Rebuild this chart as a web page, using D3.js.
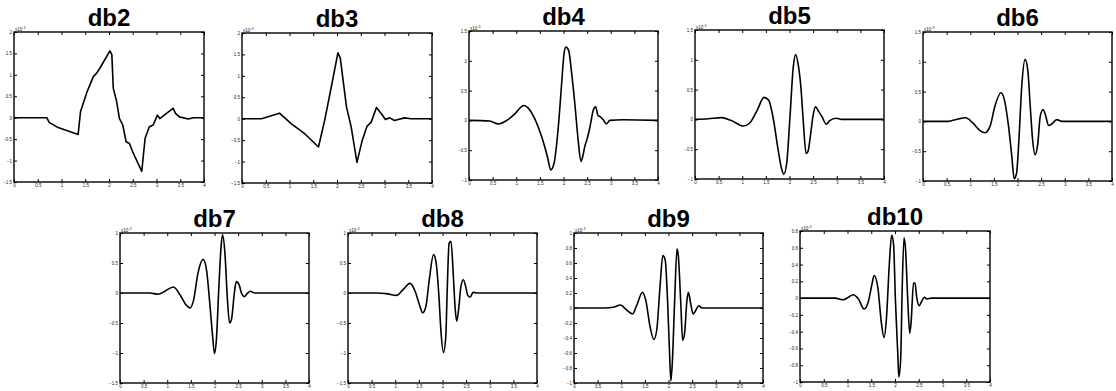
<!DOCTYPE html>
<html>
<head>
<meta charset="utf-8">
<script src="https://cdn.jsdelivr.net/npm/d3@7"></script>
<style>
  body { margin: 0; background: #fff; }
  svg { display: block; }
</style>
</head>
<body>
<div class="chart"></div>
<script>
// wavelet names and y axes (in units of the x10 multiplier)
const names = ["db2", "db3", "db4", "db5", "db6", "db7", "db8", "db9", "db10"];
const yDomains = [[-1.5, 2], [-1.5, 2], [-1, 1.5], [-1, 1.5], [-1, 1.5], [-1.5, 1], [-1.5, 1], [-1, 1], [-1, 0.8]];
const yStep = [0.5, 0.5, 0.5, 0.5, 0.5, 0.5, 0.5, 0.2, 0.2];
const xTicks = [0, 0.5, 1, 1.5, 2, 2.5, 3, 3.5, 4];

const db2 = [[0,0],[0.69,0],[0.74,-0.11],[0.93,-0.23],[1.35,-0.39],[1.40,0.14],[1.54,0.61],[1.67,0.96],[1.74,1.04],[1.81,1.16],[2.02,1.56],[2.06,1.47],[2.09,0.69],[2.16,0.38],[2.22,-0.02],[2.29,-0.17],[2.36,-0.56],[2.43,-0.60],[2.50,-0.80],[2.69,-1.25],[2.76,-0.48],[2.85,-0.21],[2.93,-0.17],[3.02,0.06],[3.07,-0.02],[3.21,0.10],[3.35,0.22],[3.40,0.10],[3.48,0.02],[3.67,-0.03],[3.78,0],[4,0]];
const db3 = [[0,0],[0.41,0],[0.79,0.13],[1.04,-0.12],[1.32,-0.35],[1.61,-0.66],[1.74,-0.04],[1.88,0.74],[2.02,1.54],[2.07,1.41],[2.20,0.27],[2.30,-0.20],[2.42,-1.02],[2.53,-0.51],[2.63,-0.18],[2.72,-0.08],[2.83,0.26],[2.93,0.12],[3.02,-0.02],[3.11,0.02],[3.21,-0.04],[3.42,0.02],[3.56,0],[4,0]];
const db4 = [[0,0],[0.44,-0.01],[0.62,-0.06],[0.80,0],[0.97,0.11],[1.16,0.25],[1.25,0.21],[1.39,0.03],[1.54,-0.28],[1.66,-0.61],[1.73,-0.83],[1.80,-0.72],[1.89,-0.11],[1.96,0.61],[2.01,1.11],[2.05,1.23],[2.11,1.17],[2.17,0.81],[2.24,0.28],[2.31,-0.33],[2.37,-0.69],[2.42,-0.56],[2.45,-0.44],[2.50,-0.31],[2.56,-0.11],[2.63,0.17],[2.68,0.23],[2.73,0.08],[2.78,0.06],[2.84,0.01],[2.91,-0.06],[2.98,0],[3.26,0.01],[4,0]];
const db5 = [[0,0],[0.28,0.01],[0.56,0.03],[0.77,-0.02],[1.02,-0.11],[1.16,-0.06],[1.32,0.16],[1.46,0.37],[1.56,0.32],[1.65,0.04],[1.76,-0.51],[1.83,-0.82],[1.88,-0.92],[1.94,-0.74],[2.01,0.04],[2.08,0.88],[2.13,1.09],[2.18,0.94],[2.24,0.55],[2.29,-0.01],[2.35,-0.57],[2.39,-0.54],[2.45,-0.23],[2.50,0.07],[2.55,0.21],[2.62,0.13],[2.69,0.04],[2.78,-0.08],[2.85,-0.02],[2.99,0.02],[3.10,0],[4,0]];
const db6 = [[0,0],[0.53,0],[0.74,0.04],[0.90,0.06],[1.06,-0.03],[1.20,-0.15],[1.31,-0.19],[1.42,-0.08],[1.52,0.25],[1.65,0.48],[1.72,0.37],[1.81,-0.08],[1.88,-0.59],[1.93,-0.96],[1.98,-0.87],[2.03,-0.31],[2.09,0.59],[2.16,1.04],[2.22,0.84],[2.27,0.25],[2.32,-0.31],[2.37,-0.56],[2.43,-0.37],[2.48,0.08],[2.54,0.20],[2.59,0.11],[2.66,-0.07],[2.73,-0.04],[2.83,0.03],[2.94,0],[4,0]];
const db7 = [[0,0],[0.63,0],[0.81,-0.02],[0.95,0.03],[1.13,0.10],[1.27,-0.03],[1.39,-0.19],[1.48,-0.25],[1.56,-0.11],[1.65,0.33],[1.76,0.56],[1.83,0.39],[1.90,-0.17],[1.96,-0.72],[2.00,-1.01],[2.04,-0.78],[2.09,0.06],[2.14,0.78],[2.17,0.97],[2.22,0.67],[2.27,-0.06],[2.32,-0.50],[2.36,-0.44],[2.42,0],[2.46,0.19],[2.52,0.14],[2.57,0],[2.63,-0.06],[2.69,-0.01],[2.76,0.03],[2.85,0],[4,0]];
const db8 = [[0,0],[0.60,0],[0.81,-0.01],[1.03,-0.04],[1.17,0.06],[1.31,0.16],[1.42,0.03],[1.51,-0.19],[1.58,-0.33],[1.65,-0.22],[1.72,0.22],[1.81,0.64],[1.86,0.53],[1.92,0],[1.97,-0.67],[2.02,-0.99],[2.07,-0.72],[2.10,0.06],[2.14,0.83],[2.18,0.86],[2.23,0.28],[2.27,-0.28],[2.30,-0.47],[2.34,-0.28],[2.39,0.11],[2.44,0.22],[2.49,0.11],[2.53,-0.03],[2.58,-0.07],[2.65,0.01],[2.76,0],[4,0]];
const db9 = [[0,0],[0.66,0],[0.83,0.01],[0.98,0.04],[1.12,-0.03],[1.24,-0.08],[1.33,0.04],[1.45,0.21],[1.52,0.10],[1.61,-0.25],[1.69,-0.42],[1.75,-0.30],[1.82,0.28],[1.88,0.70],[1.93,0.64],[1.98,0.10],[2.02,-0.56],[2.05,-0.97],[2.08,-0.74],[2.13,0.10],[2.18,0.79],[2.21,0.68],[2.26,0.06],[2.30,-0.43],[2.34,-0.34],[2.39,0.10],[2.42,0.21],[2.47,0.06],[2.52,-0.08],[2.57,-0.04],[2.64,0.03],[2.71,0],[4,0]];
const db10 = [[0,0],[0.74,0],[0.91,-0.02],[1.02,0.01],[1.12,0.04],[1.23,-0.01],[1.35,-0.13],[1.44,-0.04],[1.52,0.18],[1.56,0.27],[1.64,0.12],[1.71,-0.28],[1.77,-0.47],[1.82,-0.24],[1.88,0.40],[1.93,0.75],[1.97,0.64],[2.01,-0.04],[2.06,-0.68],[2.08,-0.94],[2.12,-0.72],[2.15,0.08],[2.19,0.72],[2.22,0.60],[2.27,-0.04],[2.31,-0.42],[2.34,-0.28],[2.39,0.18],[2.42,0.18],[2.46,0],[2.51,-0.09],[2.56,-0.04],[2.62,0.01],[2.67,-0.01],[2.77,0],[4,0]];
const curves = [db2, db3, db4, db5, db6, db7, db8, db9, db10];

// panel frames: left, top, width, height
const frames = [
  [14, 32, 190, 150], [242, 33, 190, 150], [469, 31, 189, 149], [695, 30, 189, 149], [923, 32, 189, 149],
  [120, 233, 189, 150], [348, 233, 189, 150], [574, 233, 189, 150], [800, 231, 190, 151]
];

const width = 1116;
const height = 391;
const svg = d3.select(".chart").append("svg").attr("width", width).attr("height", height);

const fmt = (d) => d3.format("~g")(+d.toFixed(2));

names.forEach((name, i) => {
  const [left, top, w, h] = frames[i];
  const x = d3.scaleLinear().domain([0, 4]).range([0, w]);
  const y = d3.scaleLinear().domain(yDomains[i]).range([h, 0]);
  const yTicks = d3.range(yDomains[i][0], yDomains[i][1] + 1e-6, yStep[i]);
  const g = svg.append("g").attr("transform", `translate(${left},${top})`);

  // title
  g.append("text")
    .attr("x", w / 2)
    .attr("y", -6)
    .attr("text-anchor", "middle")
    .style("font-family", "'Liberation Sans', Arial, sans-serif")
    .style("font-weight", "bold")
    .style("font-size", "24px")
    .text(name);

  // inward ticks on all four sides, MATLAB style
  g.append("g").attr("transform", `translate(0,${h})`)
    .call(d3.axisBottom(x).tickValues(xTicks).tickSize(-3).tickPadding(2).tickFormat(fmt));
  g.append("g")
    .call(d3.axisLeft(y).tickValues(yTicks).tickSize(-3).tickPadding(2).tickFormat(fmt));
  g.append("g").call(d3.axisTop(x).tickValues(xTicks).tickSize(-3).tickFormat(""));
  g.append("g").attr("transform", `translate(${w},0)`)
    .call(d3.axisRight(y).tickValues(yTicks).tickSize(-3).tickFormat(""));
  g.selectAll(".domain").remove();
  g.selectAll(".tick line").attr("stroke", "#000").attr("stroke-width", 1);
  g.selectAll(".tick text")
    .style("font-size", "4.5px")
    .style("font-family", "'Liberation Sans', Arial, sans-serif")
    .attr("fill", "#222");

  // multiplier label
  g.append("text")
    .attr("x", 1)
    .attr("y", -1.5)
    .attr("fill", "#222")
    .style("font-size", "4.5px")
    .style("font-family", "'Liberation Sans', Arial, sans-serif")
    .text("x10")
    .append("tspan").attr("dy", -2).style("font-size", "3.5px").text("-3");

  // frame
  g.append("rect")
    .attr("width", w)
    .attr("height", h)
    .attr("fill", "none")
    .attr("stroke", "#000")
    .attr("stroke-width", 1.4);

  // wavelet curve
  const line = d3.line()
    .x((d) => x(d[0]))
    .y((d) => y(d[1]))
    .curve(i < 2 ? d3.curveLinear : d3.curveMonotoneX);
  g.append("path")
    .datum(curves[i])
    .attr("d", line)
    .attr("fill", "none")
    .attr("stroke", "#000")
    .attr("stroke-width", 1.6)
    .attr("stroke-linejoin", "round");
});
</script>
</body>
</html>
